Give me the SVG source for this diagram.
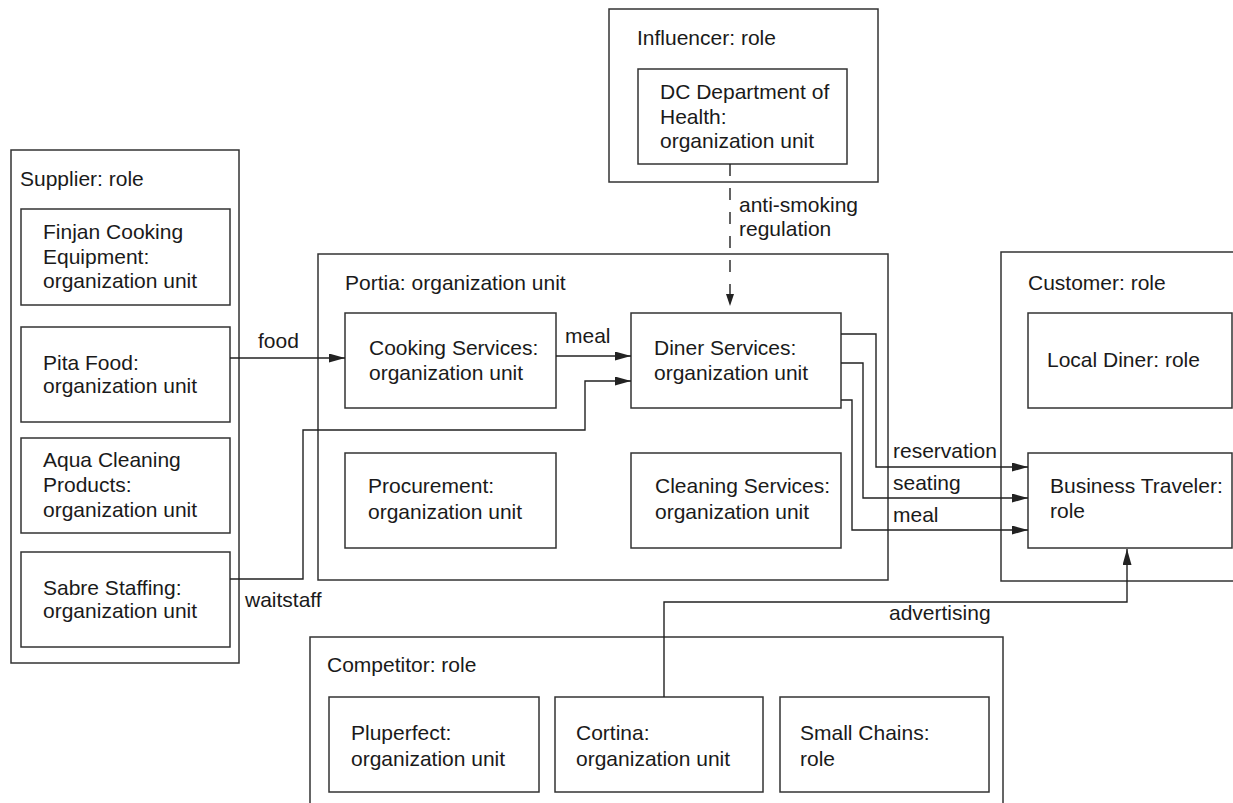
<svg xmlns="http://www.w3.org/2000/svg" width="1233" height="803" viewBox="0 0 1233 803">
<defs>
<marker id="arr" markerUnits="userSpaceOnUse" markerWidth="17" markerHeight="10" refX="16" refY="4.5" orient="auto">
<path d="M0,0 L16,4.5 L0,9 z" fill="#222"/>
</marker>
<marker id="arrs" markerUnits="userSpaceOnUse" markerWidth="13" markerHeight="9" refX="12" refY="4" orient="auto">
<path d="M0,0 L12,4 L0,8 z" fill="#222"/>
</marker>
<style>
.box{fill:#fff;stroke:#333;stroke-width:1.5}
.grp{fill:none;stroke:#333;stroke-width:1.5}
.t{font-family:"Liberation Sans",Arial,sans-serif;font-size:21px;fill:#1a1a1a}
.c{fill:none;stroke:#222;stroke-width:1.4}
</style>
</defs>
<rect width="1233" height="803" fill="#fff"/>

<g id="influencer">
<rect class="grp" x="609" y="9" width="269" height="173"/>
<text class="t" x="637" y="45">Influencer: role</text>
</g>
<g id="dc-health">
<rect class="box" x="638" y="69" width="209" height="95"/>
<text class="t" x="660" y="99">DC Department of</text>
<text class="t" x="660" y="124">Health:</text>
<text class="t" x="660" y="148">organization unit</text>
</g>

<g id="supplier">
<rect class="grp" x="11" y="150" width="228" height="513"/>
<text class="t" x="20" y="186">Supplier: role</text>
</g>
<g id="finjan">
<rect class="box" x="21" y="209" width="209" height="96"/>
<text class="t" x="43" y="239">Finjan Cooking</text>
<text class="t" x="43" y="264">Equipment:</text>
<text class="t" x="43" y="288">organization unit</text>
</g>
<g id="pita">
<rect class="box" x="21" y="327" width="209" height="95"/>
<text class="t" x="43" y="370">Pita Food:</text>
<text class="t" x="43" y="393">organization unit</text>
</g>
<g id="aqua">
<rect class="box" x="21" y="438" width="209" height="95"/>
<text class="t" x="43" y="467">Aqua Cleaning</text>
<text class="t" x="43" y="492">Products:</text>
<text class="t" x="43" y="517">organization unit</text>
</g>
<g id="sabre">
<rect class="box" x="21" y="552" width="209" height="95"/>
<text class="t" x="43" y="595">Sabre Staffing:</text>
<text class="t" x="43" y="618">organization unit</text>
</g>

<g id="portia">
<rect class="grp" x="318" y="254" width="570" height="326"/>
<text class="t" x="345" y="290">Portia: organization unit</text>
</g>
<g id="cooking">
<rect class="box" x="345" y="313" width="211" height="95"/>
<text class="t" x="369" y="355">Cooking Services:</text>
<text class="t" x="369" y="380">organization unit</text>
</g>
<g id="diner">
<rect class="box" x="631" y="313" width="210" height="95"/>
<text class="t" x="654" y="355">Diner Services:</text>
<text class="t" x="654" y="380">organization unit</text>
</g>
<g id="procurement">
<rect class="box" x="345" y="453" width="211" height="95"/>
<text class="t" x="368" y="493">Procurement:</text>
<text class="t" x="368" y="519">organization unit</text>
</g>
<g id="cleaning">
<rect class="box" x="631" y="453" width="210" height="95"/>
<text class="t" x="655" y="493">Cleaning Services:</text>
<text class="t" x="655" y="519">organization unit</text>
</g>

<g id="customer">
<rect class="grp" x="1001" y="252" width="240" height="329"/>
<text class="t" x="1028" y="290">Customer: role</text>
</g>
<g id="local-diner">
<rect class="box" x="1028" y="313" width="204" height="95"/>
<text class="t" x="1047" y="367">Local Diner: role</text>
</g>
<g id="business-traveler">
<rect class="box" x="1028" y="453" width="204" height="95"/>
<text class="t" x="1050" y="493">Business Traveler:</text>
<text class="t" x="1050" y="518">role</text>
</g>

<g id="competitor">
<rect class="grp" x="310" y="637" width="693" height="175"/>
<text class="t" x="327" y="672">Competitor: role</text>
</g>
<g id="pluperfect">
<rect class="box" x="329" y="697" width="210" height="95"/>
<text class="t" x="351" y="740">Pluperfect:</text>
<text class="t" x="351" y="766">organization unit</text>
</g>
<g id="cortina">
<rect class="box" x="555" y="697" width="208" height="95"/>
<text class="t" x="576" y="740">Cortina:</text>
<text class="t" x="576" y="766">organization unit</text>
</g>
<g id="small-chains">
<rect class="box" x="780" y="697" width="209" height="95"/>
<text class="t" x="800" y="740">Small Chains:</text>
<text class="t" x="800" y="766">role</text>
</g>

<g id="connectors">
<path class="c" d="M230,358 H345" marker-end="url(#arr)"/>
<text class="t" x="258" y="348">food</text>
<path class="c" d="M556,356 H631" marker-end="url(#arr)"/>
<text class="t" x="565" y="343">meal</text>
<path class="c" d="M230,579 H303 V430 H585 V381 H631" marker-end="url(#arr)"/>
<text class="t" x="245" y="607">waitstaff</text>
<path class="c" d="M730,164 V306" stroke-dasharray="12,12" marker-end="url(#arrs)"/>
<text class="t" x="739" y="212">anti-smoking</text>
<text class="t" x="739" y="236">regulation</text>
<path class="c" d="M841,334 H876 V467 H1028" marker-end="url(#arr)"/>
<path class="c" d="M841,363 H863 V498 H1028" marker-end="url(#arr)"/>
<path class="c" d="M841,400 H852 V530 H1028" marker-end="url(#arr)"/>
<text class="t" x="893" y="458">reservation</text>
<text class="t" x="893" y="490">seating</text>
<text class="t" x="893" y="522">meal</text>
<path class="c" d="M664,697 V602 H1127 V549" marker-end="url(#arr)"/>
<text class="t" x="889" y="620">advertising</text>
</g>
</svg>
